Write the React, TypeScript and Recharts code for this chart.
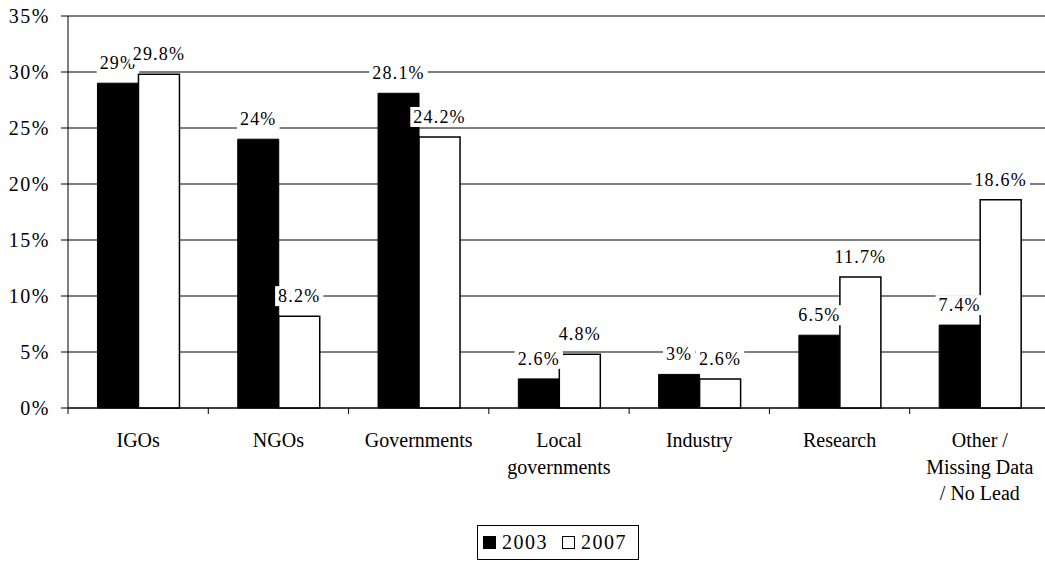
import React from 'react';
import { BarChart, Bar, XAxis, YAxis, CartesianGrid, LabelList, Legend } from 'recharts';

// Lead organisation type, share of projects in 2003 vs 2007 (percent)
const categoryLines: string[][] = [
  ['IGOs'],
  ['NGOs'],
  ['Governments'],
  ['Local', 'governments'],
  ['Industry'],
  ['Research'],
  ['Other /', 'Missing Data', '/ No Lead'],
];
const categories = categoryLines.map((l) => l.join(' '));
const values2003 = [29, 24, 28.1, 2.6, 3, 6.5, 7.4];
const values2007 = [29.8, 8.2, 24.2, 4.8, 2.6, 11.7, 18.6];
const yTicks = [0, 5, 10, 15, 20, 25, 30, 35];
const seriesNames = ['2003', '2007'];

const data = categories.map((name, i) => ({
  name,
  y2003: values2003[i],
  y2007: values2007[i],
}));

const CHART_W = 1060;
const CHART_H = 561;
const MARGIN = { top: 16, right: 10, bottom: 53, left: 0 };
const Y_AXIS_W = 68;
const PLOT_W = CHART_W - MARGIN.left - MARGIN.right - Y_AXIS_W;
const CAT_W = PLOT_W / categories.length;
const TICK_SIZE = 6;

const serif = "'Liberation Serif', 'Times New Roman', serif";

const LABEL_FS = 18;
const LABEL_LS = 1.2;
const charWidth = (c: string) => (c === '.' ? 0.25 : c === '%' ? 0.833 : 0.5);

// value label with a white backing box that hides the gridline behind it
const ValueLabel = (props: any) => {
  const { x, y, width, value } = props;
  const text = `${value}%`;
  const w =
    text.split('').reduce((s, c) => s + charWidth(c) * LABEL_FS + LABEL_LS, 0) + 6;
  const cx = Number(x) + Number(width) / 2;
  const cy = Number(y) - 20;
  return (
    <g>
      <rect x={cx - w / 2} y={cy - 10} width={w} height={20} fill="#fff" />
      <text
        x={cx}
        y={cy}
        textAnchor="middle"
        dominantBaseline="central"
        style={{ fontFamily: serif, letterSpacing: LABEL_LS }}
        fontSize={LABEL_FS}
        fill="#000"
      >
        {text}
      </text>
    </g>
  );
};

const CategoryTick = (props: any) => {
  const { x, y, payload, index } = props;
  const axisY = y - TICK_SIZE;
  const lines = categoryLines[index] || [String(payload.value)];
  const left = x - CAT_W / 2;
  const right = x + CAT_W / 2;
  return (
    <g>
      <line x1={left} y1={axisY} x2={left} y2={axisY + TICK_SIZE} stroke="#000" strokeWidth={1} />
      {index === categories.length - 1 && (
        <line x1={right} y1={axisY} x2={right} y2={axisY + TICK_SIZE} stroke="#000" strokeWidth={1} />
      )}
      <text textAnchor="middle" style={{ fontFamily: serif }} fontSize={20} fill="#000">
        {lines.map((line, i) => (
          <tspan key={i} x={x} y={axisY + 39 + i * 26.5}>
            {line}
          </tspan>
        ))}
      </text>
    </g>
  );
};

const LegendBox = () => (
  <div
    style={{
      boxSizing: 'border-box',
      width: 162,
      height: 35,
      border: '1px solid #000',
      background: '#fff',
      display: 'flex',
      alignItems: 'center',
      paddingLeft: 5,
      fontFamily: serif,
      fontSize: 20,
      letterSpacing: 1.5,
      color: '#000',
    }}
  >
    <span style={{ display: 'inline-block', width: 13, height: 13, background: '#000', border: '1px solid #000', boxSizing: 'border-box' }} />
    <span style={{ marginLeft: 6 }}>{seriesNames[0]}</span>
    <span style={{ display: 'inline-block', width: 13, height: 13, background: '#fff', border: '1px solid #000', boxSizing: 'border-box', marginLeft: 14 }} />
    <span style={{ marginLeft: 6 }}>{seriesNames[1]}</span>
  </div>
);

export default function App() {
  return (
    <div
      style={{
        position: 'fixed',
        left: 0,
        top: 0,
        width: 1045,
        height: 561,
        overflow: 'hidden',
        background: '#fff',
      }}
    >
      <BarChart
        width={CHART_W}
        height={CHART_H}
        data={data}
        margin={MARGIN}
        barCategoryGap="21%"
        barGap={0}
      >
        <CartesianGrid vertical={false} stroke="#000" strokeWidth={1} />
        <XAxis
          dataKey="name"
          axisLine={{ stroke: '#000', strokeWidth: 1 }}
          tickLine={false}
          tickSize={TICK_SIZE}
          tickMargin={0}
          interval={0}
          height={100}
          tick={<CategoryTick />}
        />
        <YAxis
          width={Y_AXIS_W}
          domain={[0, 35]}
          ticks={yTicks}
          interval={0}
          tickFormatter={(v: number) => `${v}%`}
          axisLine={{ stroke: '#000', strokeWidth: 1 }}
          tickLine={{ stroke: '#000', strokeWidth: 1 }}
          tickSize={7}
          tickMargin={11}
          tick={{ style: { fontFamily: serif, letterSpacing: 1.5 }, fontSize: 20, fill: '#000' }}
        />
        <Legend
          layout="horizontal"
          verticalAlign="middle"
          align="center"
          wrapperStyle={{ left: 477, top: 525, width: 162 }}
          content={<LegendBox />}
        />
        <Bar dataKey="y2003" name={seriesNames[0]} fill="#000" stroke="#000" strokeWidth={1} isAnimationActive={false}>
          <LabelList dataKey="y2003" content={<ValueLabel />} />
        </Bar>
        <Bar dataKey="y2007" name={seriesNames[1]} fill="#fff" stroke="#000" strokeWidth={1.5} isAnimationActive={false}>
          <LabelList dataKey="y2007" content={<ValueLabel />} />
        </Bar>
      </BarChart>
    </div>
  );
}
